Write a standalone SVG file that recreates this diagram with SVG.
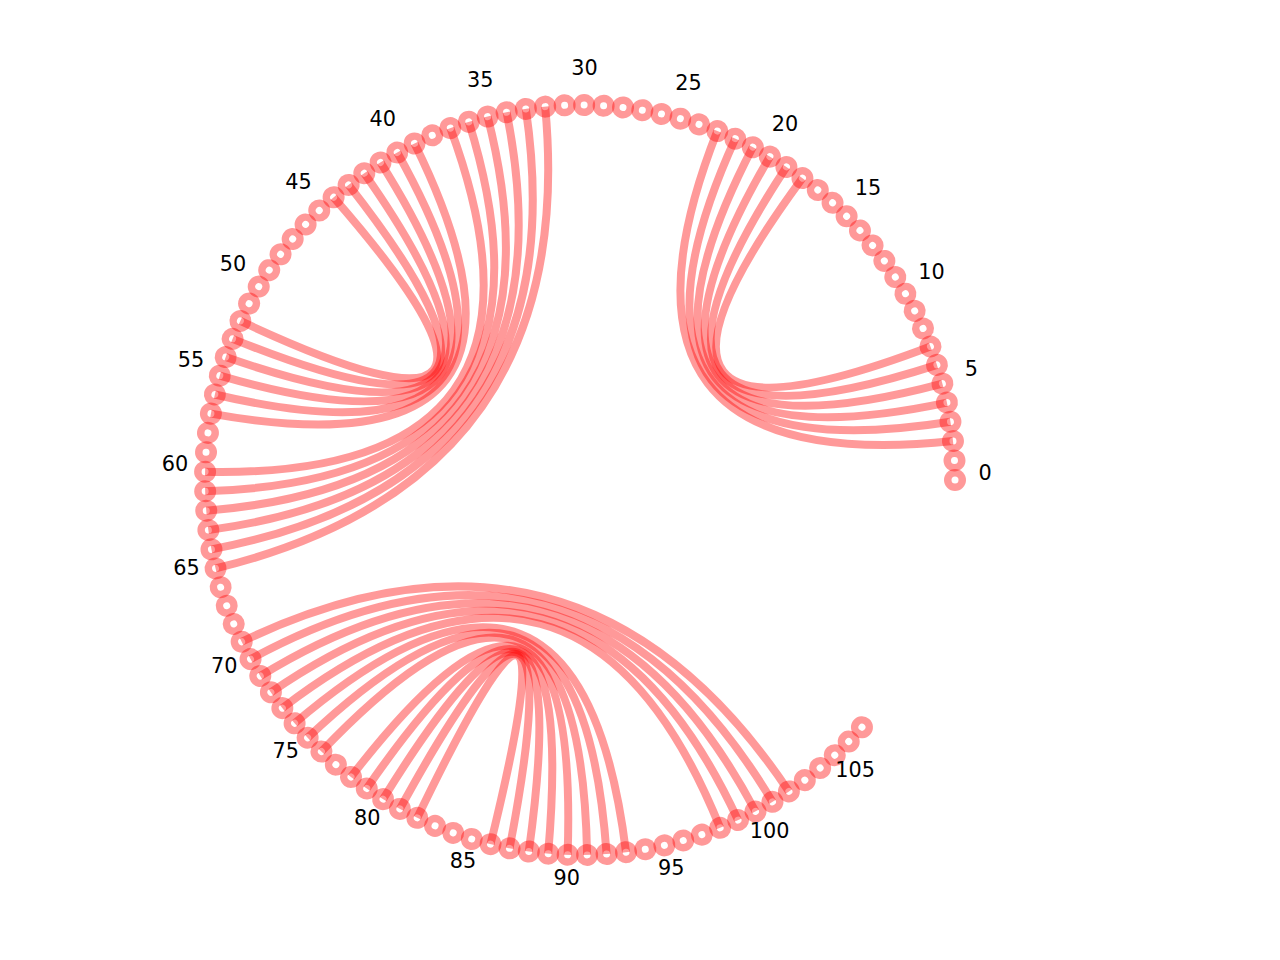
<svg xmlns="http://www.w3.org/2000/svg" xmlns:xlink="http://www.w3.org/1999/xlink" width="1280" height="960" viewBox="0 0 1280 960">
<style>
.halo{fill:#ff0000;fill-opacity:0.4}
.dot{fill:#ffffff}
.edge{fill:none;stroke:#ff0000;stroke-opacity:0.4;stroke-width:8}
.lbl{font-family:'DejaVu Sans',sans-serif;font-size:20.8px;text-anchor:middle;fill:#000000}
</style>
<defs>
<g id="nd"><circle class="halo" cx="955" cy="480" r="11"/><circle class="dot" cx="955" cy="480" r="3.5"/></g>
</defs>
<rect x="0" y="0" width="1280" height="960" fill="#ffffff"/>
<g id="nodes">
<g id="node-0" transform="rotate(-0 580 480)"><use xlink:href="#nd"/><text class="lbl" transform="translate(985 480) rotate(0)">0</text></g>
<g id="node-1" transform="rotate(-2.979 580 480)"><use xlink:href="#nd"/></g>
<g id="node-2" transform="rotate(-5.958 580 480)"><use xlink:href="#nd"/></g>
<g id="node-3" transform="rotate(-8.937 580 480)"><use xlink:href="#nd"/></g>
<g id="node-4" transform="rotate(-11.916 580 480)"><use xlink:href="#nd"/></g>
<g id="node-5" transform="rotate(-14.895 580 480)"><use xlink:href="#nd"/><text class="lbl" transform="translate(985 480) rotate(14.895)">5</text></g>
<g id="node-6" transform="rotate(-17.874 580 480)"><use xlink:href="#nd"/></g>
<g id="node-7" transform="rotate(-20.853 580 480)"><use xlink:href="#nd"/></g>
<g id="node-8" transform="rotate(-23.832 580 480)"><use xlink:href="#nd"/></g>
<g id="node-9" transform="rotate(-26.811 580 480)"><use xlink:href="#nd"/></g>
<g id="node-10" transform="rotate(-29.79 580 480)"><use xlink:href="#nd"/><text class="lbl" transform="translate(985 480) rotate(29.79)">10</text></g>
<g id="node-11" transform="rotate(-32.769 580 480)"><use xlink:href="#nd"/></g>
<g id="node-12" transform="rotate(-35.748 580 480)"><use xlink:href="#nd"/></g>
<g id="node-13" transform="rotate(-38.727 580 480)"><use xlink:href="#nd"/></g>
<g id="node-14" transform="rotate(-41.706 580 480)"><use xlink:href="#nd"/></g>
<g id="node-15" transform="rotate(-44.685 580 480)"><use xlink:href="#nd"/><text class="lbl" transform="translate(985 480) rotate(44.685)">15</text></g>
<g id="node-16" transform="rotate(-47.664 580 480)"><use xlink:href="#nd"/></g>
<g id="node-17" transform="rotate(-50.643 580 480)"><use xlink:href="#nd"/></g>
<g id="node-18" transform="rotate(-53.622 580 480)"><use xlink:href="#nd"/></g>
<g id="node-19" transform="rotate(-56.601 580 480)"><use xlink:href="#nd"/></g>
<g id="node-20" transform="rotate(-59.58 580 480)"><use xlink:href="#nd"/><text class="lbl" transform="translate(985 480) rotate(59.58)">20</text></g>
<g id="node-21" transform="rotate(-62.559 580 480)"><use xlink:href="#nd"/></g>
<g id="node-22" transform="rotate(-65.538 580 480)"><use xlink:href="#nd"/></g>
<g id="node-23" transform="rotate(-68.517 580 480)"><use xlink:href="#nd"/></g>
<g id="node-24" transform="rotate(-71.496 580 480)"><use xlink:href="#nd"/></g>
<g id="node-25" transform="rotate(-74.475 580 480)"><use xlink:href="#nd"/><text class="lbl" transform="translate(985 480) rotate(74.475)">25</text></g>
<g id="node-26" transform="rotate(-77.454 580 480)"><use xlink:href="#nd"/></g>
<g id="node-27" transform="rotate(-80.433 580 480)"><use xlink:href="#nd"/></g>
<g id="node-28" transform="rotate(-83.412 580 480)"><use xlink:href="#nd"/></g>
<g id="node-29" transform="rotate(-86.391 580 480)"><use xlink:href="#nd"/></g>
<g id="node-30" transform="rotate(-89.37 580 480)"><use xlink:href="#nd"/><text class="lbl" transform="translate(985 480) rotate(89.37)">30</text></g>
<g id="node-31" transform="rotate(-92.349 580 480)"><use xlink:href="#nd"/></g>
<g id="node-32" transform="rotate(-95.328 580 480)"><use xlink:href="#nd"/></g>
<g id="node-33" transform="rotate(-98.307 580 480)"><use xlink:href="#nd"/></g>
<g id="node-34" transform="rotate(-101.286 580 480)"><use xlink:href="#nd"/></g>
<g id="node-35" transform="rotate(-104.265 580 480)"><use xlink:href="#nd"/><text class="lbl" transform="translate(985 480) rotate(104.265)">35</text></g>
<g id="node-36" transform="rotate(-107.244 580 480)"><use xlink:href="#nd"/></g>
<g id="node-37" transform="rotate(-110.223 580 480)"><use xlink:href="#nd"/></g>
<g id="node-38" transform="rotate(-113.202 580 480)"><use xlink:href="#nd"/></g>
<g id="node-39" transform="rotate(-116.181 580 480)"><use xlink:href="#nd"/></g>
<g id="node-40" transform="rotate(-119.16 580 480)"><use xlink:href="#nd"/><text class="lbl" transform="translate(985 480) rotate(119.16)">40</text></g>
<g id="node-41" transform="rotate(-122.139 580 480)"><use xlink:href="#nd"/></g>
<g id="node-42" transform="rotate(-125.118 580 480)"><use xlink:href="#nd"/></g>
<g id="node-43" transform="rotate(-128.097 580 480)"><use xlink:href="#nd"/></g>
<g id="node-44" transform="rotate(-131.076 580 480)"><use xlink:href="#nd"/></g>
<g id="node-45" transform="rotate(-134.055 580 480)"><use xlink:href="#nd"/><text class="lbl" transform="translate(985 480) rotate(134.055)">45</text></g>
<g id="node-46" transform="rotate(-137.034 580 480)"><use xlink:href="#nd"/></g>
<g id="node-47" transform="rotate(-140.013 580 480)"><use xlink:href="#nd"/></g>
<g id="node-48" transform="rotate(-142.992 580 480)"><use xlink:href="#nd"/></g>
<g id="node-49" transform="rotate(-145.971 580 480)"><use xlink:href="#nd"/></g>
<g id="node-50" transform="rotate(-148.95 580 480)"><use xlink:href="#nd"/><text class="lbl" transform="translate(985 480) rotate(148.95)">50</text></g>
<g id="node-51" transform="rotate(-151.929 580 480)"><use xlink:href="#nd"/></g>
<g id="node-52" transform="rotate(-154.908 580 480)"><use xlink:href="#nd"/></g>
<g id="node-53" transform="rotate(-157.887 580 480)"><use xlink:href="#nd"/></g>
<g id="node-54" transform="rotate(-160.866 580 480)"><use xlink:href="#nd"/></g>
<g id="node-55" transform="rotate(-163.845 580 480)"><use xlink:href="#nd"/><text class="lbl" transform="translate(985 480) rotate(163.845)">55</text></g>
<g id="node-56" transform="rotate(-166.824 580 480)"><use xlink:href="#nd"/></g>
<g id="node-57" transform="rotate(-169.803 580 480)"><use xlink:href="#nd"/></g>
<g id="node-58" transform="rotate(-172.782 580 480)"><use xlink:href="#nd"/></g>
<g id="node-59" transform="rotate(-175.761 580 480)"><use xlink:href="#nd"/></g>
<g id="node-60" transform="rotate(-178.74 580 480)"><use xlink:href="#nd"/><text class="lbl" transform="translate(985 480) rotate(178.74)">60</text></g>
<g id="node-61" transform="rotate(-181.719 580 480)"><use xlink:href="#nd"/></g>
<g id="node-62" transform="rotate(-184.698 580 480)"><use xlink:href="#nd"/></g>
<g id="node-63" transform="rotate(-187.677 580 480)"><use xlink:href="#nd"/></g>
<g id="node-64" transform="rotate(-190.656 580 480)"><use xlink:href="#nd"/></g>
<g id="node-65" transform="rotate(-193.635 580 480)"><use xlink:href="#nd"/><text class="lbl" transform="translate(985 480) rotate(193.635)">65</text></g>
<g id="node-66" transform="rotate(-196.614 580 480)"><use xlink:href="#nd"/></g>
<g id="node-67" transform="rotate(-199.593 580 480)"><use xlink:href="#nd"/></g>
<g id="node-68" transform="rotate(-202.572 580 480)"><use xlink:href="#nd"/></g>
<g id="node-69" transform="rotate(-205.551 580 480)"><use xlink:href="#nd"/></g>
<g id="node-70" transform="rotate(-208.53 580 480)"><use xlink:href="#nd"/><text class="lbl" transform="translate(985 480) rotate(208.53)">70</text></g>
<g id="node-71" transform="rotate(-211.509 580 480)"><use xlink:href="#nd"/></g>
<g id="node-72" transform="rotate(-214.488 580 480)"><use xlink:href="#nd"/></g>
<g id="node-73" transform="rotate(-217.467 580 480)"><use xlink:href="#nd"/></g>
<g id="node-74" transform="rotate(-220.446 580 480)"><use xlink:href="#nd"/></g>
<g id="node-75" transform="rotate(-223.425 580 480)"><use xlink:href="#nd"/><text class="lbl" transform="translate(985 480) rotate(223.425)">75</text></g>
<g id="node-76" transform="rotate(-226.404 580 480)"><use xlink:href="#nd"/></g>
<g id="node-77" transform="rotate(-229.383 580 480)"><use xlink:href="#nd"/></g>
<g id="node-78" transform="rotate(-232.362 580 480)"><use xlink:href="#nd"/></g>
<g id="node-79" transform="rotate(-235.341 580 480)"><use xlink:href="#nd"/></g>
<g id="node-80" transform="rotate(-238.32 580 480)"><use xlink:href="#nd"/><text class="lbl" transform="translate(985 480) rotate(238.32)">80</text></g>
<g id="node-81" transform="rotate(-241.299 580 480)"><use xlink:href="#nd"/></g>
<g id="node-82" transform="rotate(-244.278 580 480)"><use xlink:href="#nd"/></g>
<g id="node-83" transform="rotate(-247.257 580 480)"><use xlink:href="#nd"/></g>
<g id="node-84" transform="rotate(-250.236 580 480)"><use xlink:href="#nd"/></g>
<g id="node-85" transform="rotate(-253.215 580 480)"><use xlink:href="#nd"/><text class="lbl" transform="translate(985 480) rotate(253.215)">85</text></g>
<g id="node-86" transform="rotate(-256.194 580 480)"><use xlink:href="#nd"/></g>
<g id="node-87" transform="rotate(-259.173 580 480)"><use xlink:href="#nd"/></g>
<g id="node-88" transform="rotate(-262.152 580 480)"><use xlink:href="#nd"/></g>
<g id="node-89" transform="rotate(-265.131 580 480)"><use xlink:href="#nd"/></g>
<g id="node-90" transform="rotate(-268.11 580 480)"><use xlink:href="#nd"/><text class="lbl" transform="translate(985 480) rotate(268.11)">90</text></g>
<g id="node-91" transform="rotate(-271.089 580 480)"><use xlink:href="#nd"/></g>
<g id="node-92" transform="rotate(-274.068 580 480)"><use xlink:href="#nd"/></g>
<g id="node-93" transform="rotate(-277.047 580 480)"><use xlink:href="#nd"/></g>
<g id="node-94" transform="rotate(-280.026 580 480)"><use xlink:href="#nd"/></g>
<g id="node-95" transform="rotate(-283.005 580 480)"><use xlink:href="#nd"/><text class="lbl" transform="translate(985 480) rotate(283.005)">95</text></g>
<g id="node-96" transform="rotate(-285.984 580 480)"><use xlink:href="#nd"/></g>
<g id="node-97" transform="rotate(-288.963 580 480)"><use xlink:href="#nd"/></g>
<g id="node-98" transform="rotate(-291.942 580 480)"><use xlink:href="#nd"/></g>
<g id="node-99" transform="rotate(-294.921 580 480)"><use xlink:href="#nd"/></g>
<g id="node-100" transform="rotate(-297.9 580 480)"><use xlink:href="#nd"/><text class="lbl" transform="translate(985 480) rotate(297.9)">100</text></g>
<g id="node-101" transform="rotate(-300.879 580 480)"><use xlink:href="#nd"/></g>
<g id="node-102" transform="rotate(-303.858 580 480)"><use xlink:href="#nd"/></g>
<g id="node-103" transform="rotate(-306.837 580 480)"><use xlink:href="#nd"/></g>
<g id="node-104" transform="rotate(-309.816 580 480)"><use xlink:href="#nd"/></g>
<g id="node-105" transform="rotate(-312.795 580 480)"><use xlink:href="#nd"/><text class="lbl" transform="translate(985 480) rotate(312.795)">105</text></g>
<g id="node-106" transform="rotate(-315.774 580 480)"><use xlink:href="#nd"/></g>
<g id="node-107" transform="rotate(-318.753 580 480)"><use xlink:href="#nd"/></g>
</g>
<g id="connectors">
<g transform="rotate(-37.2375 580 480)">
<path class="edge" d="M900.49,674.71 Q580,480 900.49,285.29"/>
<path class="edge" d="M910.18,657.79 Q580,480 910.18,302.21"/>
<path class="edge" d="M918.97,640.39 Q580,480 918.97,319.61"/>
<path class="edge" d="M926.85,622.55 Q580,480 926.85,337.45"/>
<path class="edge" d="M933.79,604.34 Q580,480 933.79,355.66"/>
<path class="edge" d="M939.77,585.78 Q580,480 939.77,374.22"/>
</g>
<g transform="rotate(-142.992 580 480)">
<path class="edge" d="M914.69,649.14 Q580,480 914.69,310.86"/>
<path class="edge" d="M923.03,631.52 Q580,480 923.03,328.48"/>
<path class="edge" d="M930.44,613.49 Q580,480 930.44,346.51"/>
<path class="edge" d="M936.90,595.10 Q580,480 936.90,364.90"/>
<path class="edge" d="M942.40,576.39 Q580,480 942.40,383.61"/>
<path class="edge" d="M946.92,557.43 Q580,480 946.92,402.57"/>
</g>
<g transform="rotate(-144.4815 580 480)">
<path class="edge" d="M825.26,763.67 Q580,480 825.26,196.33"/>
<path class="edge" d="M839.67,750.54 Q580,480 839.67,209.46"/>
<path class="edge" d="M853.38,736.68 Q580,480 853.38,223.32"/>
<path class="edge" d="M866.35,722.13 Q580,480 866.35,237.87"/>
<path class="edge" d="M878.55,706.92 Q580,480 878.55,253.08"/>
<path class="edge" d="M889.94,691.10 Q580,480 889.94,268.90"/>
</g>
<g transform="rotate(-254.7045 580 480)">
<path class="edge" d="M825.26,763.67 Q580,480 825.26,196.33"/>
<path class="edge" d="M839.67,750.54 Q580,480 839.67,209.46"/>
<path class="edge" d="M853.38,736.68 Q580,480 853.38,223.32"/>
<path class="edge" d="M866.35,722.13 Q580,480 866.35,237.87"/>
<path class="edge" d="M878.55,706.92 Q580,480 878.55,253.08"/>
</g>
<g transform="rotate(-248.7465 580 480)">
<path class="edge" d="M910.18,657.79 Q580,480 910.18,302.21"/>
<path class="edge" d="M918.97,640.39 Q580,480 918.97,319.61"/>
<path class="edge" d="M926.85,622.55 Q580,480 926.85,337.45"/>
</g>
<g transform="rotate(-250.236 580 480)">
<path class="edge" d="M936.90,595.10 Q580,480 936.90,364.90"/>
<path class="edge" d="M942.40,576.39 Q580,480 942.40,383.61"/>
<path class="edge" d="M946.92,557.43 Q580,480 946.92,402.57"/>
<path class="edge" d="M950.45,538.26 Q580,480 950.45,421.74"/>
<path class="edge" d="M952.97,518.92 Q580,480 952.97,441.08"/>
</g>
</g>
</svg>
